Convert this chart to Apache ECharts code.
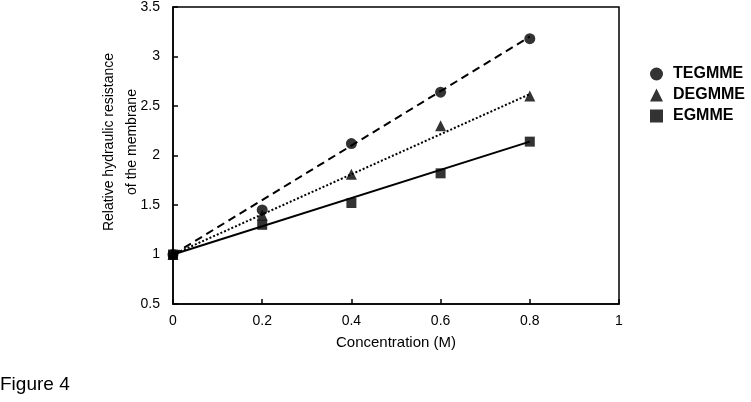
<!DOCTYPE html>
<html>
<head>
<meta charset="utf-8">
<script src="https://cdn.jsdelivr.net/npm/echarts@6/dist/echarts.min.js"></script>
<style>
  html, body { margin: 0; padding: 0; background: #fff; }
  #chart { width: 751px; height: 402px; }
</style>
</head>
<body>
<div id="chart"></div>
<script>
// 浓度 (M)
var conc = [0, 0.2, 0.4, 0.6, 0.8];
// 测量值
var tegmme = [1, 1.45, 2.12, 2.64, 3.18];
var degmme = [1, 1.40, 1.81, 2.30, 2.60];
var egmme = [1, 1.30, 1.52, 1.82, 2.14];
// 趋势线 (起点, 终点)
var trendX = [0, 0.8];
var tegmmeFit = [1, 3.2];
var degmmeFit = [1, 2.62];
var egmmeFit = [1, 2.14];

function pairs(xs, ys){
  var out = [];
  for(var i=0;i<xs.length;i++){
    out.push([xs[i], ys[i]]);
  }
  return out;
}

var chart = echarts.init(document.getElementById('chart'));
var font = 'Liberation Sans, Arial, sans-serif';

var option = {
  backgroundColor: '#fff',
  animation: false,
  textStyle: { fontFamily: font, color: '#000' },
  grid: {
    left: 173, top: 5, width: 446, height: 299,
    show: true, borderColor: '#000', borderWidth: 1.5, backgroundColor: 'transparent'
  },
  legend: {
    data: [
      { name: 'TEGMME', icon: 'circle' },
      { name: 'DEGMME', icon: 'triangle' },
      { name: 'EGMME', icon: 'rect' }
    ],
    orient: 'vertical',
    left: 645, top: 61,
    itemWidth: 13, itemHeight: 13, itemGap: 5,
    textStyle: { fontSize: 16, fontWeight: 'bold', color: '#000', fontFamily: font, padding: [0, 0, 0, 5] }
  },
  xAxis: {
    type: 'value', min: 0, max: 1, interval: 0.2,
    name: 'Concentration (M)', nameLocation: 'middle', nameGap: 31,
    nameTextStyle: { fontSize: 15, color: '#000', fontFamily: font },
    axisLine: { lineStyle: { color: '#000', width: 1.5 } },
    axisTick: { inside: true, length: 5, lineStyle: { color: '#000', width: 1.5 } },
    axisLabel: { fontSize: 14, color: '#000', margin: 10 },
    splitLine: { show: false }
  },
  yAxis: {
    type: 'value', min: 0.5, max: 3.5, interval: 0.5,
    axisLine: { show: true, lineStyle: { color: '#000', width: 1.5 } },
    axisTick: { show: true, inside: true, length: 5, lineStyle: { color: '#000', width: 1.5 } },
    axisLabel: { fontSize: 14, color: '#000', margin: 13 },
    splitLine: { show: false }
  },
  graphic: [{
    type: 'text',
    x: 121, y: 142,
    rotation: Math.PI / 2,
    style: {
      text: 'Relative hydraulic resistance\nof the membrane',
      font: '14px ' + font,
      fill: '#000',
      align: 'center',
      verticalAlign: 'middle',
      lineHeight: 23
    }
  }, {
    type: 'text',
    left: 0, top: 375,
    style: { text: 'Figure 4', font: '19px ' + font, fill: '#000' }
  }],
  series: [
    // 趋势线
    { type: 'line', data: pairs(trendX, egmmeFit), symbol: 'none', silent: true,
      lineStyle: { color: '#000', width: 2, type: 'solid' }, z: 1 },
    { type: 'line', data: pairs(trendX, degmmeFit), symbol: 'none', silent: true,
      lineStyle: { color: '#000', width: 2, type: [2, 2] }, z: 1 },
    { type: 'line', data: pairs(trendX, tegmmeFit), symbol: 'none', silent: true,
      lineStyle: { color: '#000', width: 2, type: [8, 5] }, z: 1 },
    // 数据点
    { name: 'DEGMME', type: 'scatter', data: pairs(conc, degmme), symbol: 'triangle',
      symbolSize: 11, itemStyle: { color: '#000' }, z: 2 },
    { name: 'EGMME', type: 'scatter', data: pairs(conc, egmme), symbol: 'rect',
      symbolSize: 10, itemStyle: { color: '#000' }, z: 3 },
    { name: 'TEGMME', type: 'scatter', data: pairs(conc, tegmme), symbol: 'circle',
      symbolSize: 11, itemStyle: { color: '#000' }, z: 4 }
  ]
};

chart.setOption(option);
</script>
</body>
</html>
